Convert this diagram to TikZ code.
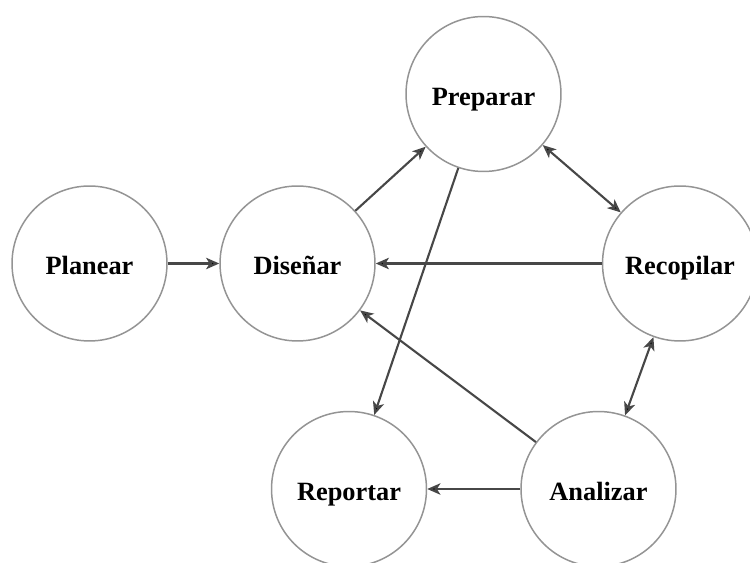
\documentclass[tikz,border=0pt]{standalone}
\usepackage{fontspec}
\setmainfont{Liberation Serif}
\usetikzlibrary{arrows.meta}

\begin{document}
\begin{tikzpicture}[x=0.02cm, y=-0.02cm, c/.style={circle, draw=black!42, line width=0.85pt, minimum size=3.1cm, inner sep=0pt, text height=13pt, text depth=0pt, font=\fontsize{15}{18}\selectfont\bfseries}, s/.style={draw=black!72, line width=1.2pt}, >={Stealth[length=7.5pt, width=6.5pt, inset=2pt]}]
		\useasboundingbox (0,0) rectangle (750,563);
		\node[c] (P) at (89.5,263.5) {Planear};
		\node[c] (D) at (297.5,263.5) {Diseñar};
		\node[c] (Pr) at (483.5,94) {Preparar};
		\node[c] (R) at (680,263.5) {Recopilar};
		\node[c] (Re) at (349,489) {Reportar};
		\node[c] (A) at (598.5,489) {Analizar};


		\path[->, s] (P) edge (D);
		\path[->, s] (D) edge (Pr);
		\path[<->, s] (Pr) edge (R);
		\path[->, s] (R) edge (D);
		\path[<->, s] (R) edge (A);
		\path[->, s] (A) edge (D);
		\path[->, s] (Pr) edge (Re);
		\path[->, s] (A) edge (Re);
	\end{tikzpicture}
\end{document}
